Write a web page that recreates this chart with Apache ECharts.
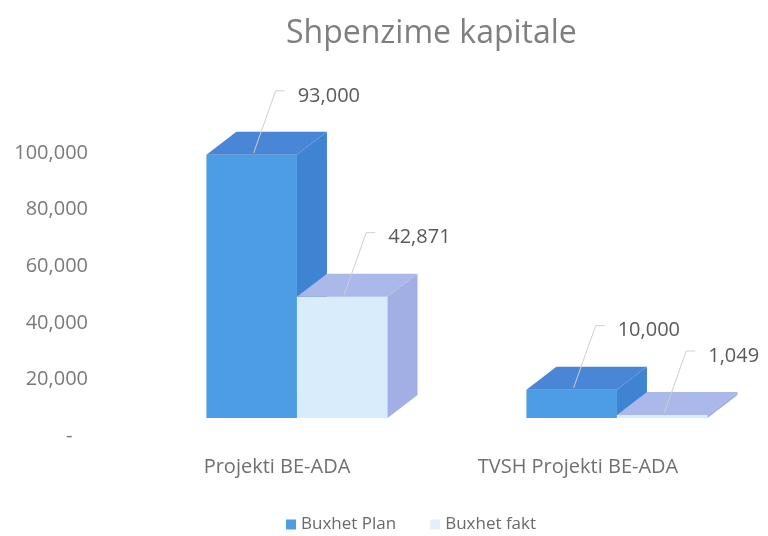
<!DOCTYPE html>
<html>
<head>
<meta charset="utf-8">
<script src="https://cdn.jsdelivr.net/npm/echarts@6/dist/echarts.min.js"></script>
<style>
html, body { margin: 0; padding: 0; background: #fff; }
#chart { width: 768px; height: 536px; }
</style>
</head>
<body>
<div id="chart"></div>
<script>
var categories = ["Projekti BE-ADA", "TVSH Projekti BE-ADA"];
var planValues = [93000, 10000];
var faktValues = [42871, 1049];
var yTicks = [0, 20000, 40000, 60000, 80000, 100000];

var FONT = '"Open Sans", "Noto Sans", sans-serif';

// colours for front / top / side of each series
var faces = [
  { front: "#4c9de4", top: "#4a86d6", side: "#3f84d2" },
  { front: "#d9ecfb", top: "#aab8ea", side: "#a2afe5" }
];

function fmt(v) {
  return v.toLocaleString("en-US");
}

function box(seriesIdx) {
  return function (params, api) {
    var j = params.dataIndex;
    var val = api.value(1);
    var band = api.size([1, 0])[0];
    var w = band * 0.283;
    var shift = band * 0.053;
    var lift = 18, dx = 30, dy = -23;
    var cx = api.coord([j, 0])[0] + shift;
    var x0 = seriesIdx === 0 ? cx - w : cx;
    var x1 = x0 + w;
    var yb = api.coord([j, 0])[1] - lift;
    var yt = api.coord([j, val])[1] - lift;
    var f = faces[seriesIdx];
    var mid = (x0 + x1) / 2;
    var lx = mid + 24, ly = yt - 64;
    return {
      type: "group",
      children: [
        { type: "polygon", shape: { points: [[x0, yb], [x1, yb], [x1, yt], [x0, yt]] }, style: { fill: f.front } },
        { type: "polygon", shape: { points: [[x0, yt], [x1, yt], [x1 + dx, yt + dy], [x0 + dx, yt + dy]] }, style: { fill: f.top } },
        { type: "polygon", shape: { points: [[x1, yb], [x1 + dx, yb + dy], [x1 + dx, yt + dy], [x1, yt]] }, style: { fill: f.side } },
        { type: "polyline", shape: { points: [[mid + 2, yt - 2], [lx, ly], [lx + 9, ly]] }, style: { stroke: "#cfcfcf", lineWidth: 1, fill: null } },
        { type: "text", style: { text: fmt(val), x: lx + 22, y: ly + 5, fill: "#5a5a5a", font: "20px " + FONT, verticalAlign: "middle" } }
      ]
    };
  };
}

var chart = echarts.init(document.getElementById("chart"));
chart.setOption({
  backgroundColor: "#fff",
  animation: false,
  title: {
    text: "Shpenzime kapitale",
    left: 281,
    top: 13,
    textStyle: { color: "#7f7f7f", fontSize: 32, fontWeight: "normal", fontFamily: FONT }
  },
  legend: {
    data: ["Buxhet Plan", "Buxhet fakt"],
    top: 511,
    left: 281,
    itemWidth: 10,
    itemHeight: 10,
    itemGap: 34,
    icon: "rect",
    textStyle: { color: "#6a6a6a", fontSize: 17, fontFamily: FONT }
  },
  grid: { left: 120, width: 640, top: 153, bottom: 100 },
  xAxis: {
    type: "category",
    data: categories,
    axisLine: { show: false },
    axisTick: { show: false },
    axisLabel: {
      color: "#707070",
      fontSize: 20,
      fontFamily: FONT,
      margin: 21,
      formatter: function (v, i) { return i === 0 ? "{a|" + v + "}" : "{b|" + v + "}"; },
      rich: {
        a: { color: "#707070", fontSize: 20, fontFamily: FONT, padding: [0, 6, 0, 0] },
        b: { color: "#707070", fontSize: 20, fontFamily: FONT, padding: [0, 44, 0, 0] }
      }
    }
  },
  yAxis: {
    type: "value",
    min: yTicks[0],
    max: yTicks[yTicks.length - 1],
    interval: yTicks[1] - yTicks[0],
    splitLine: { show: false },
    axisLine: { show: false },
    axisTick: { show: false },
    axisLabel: {
      color: "#7a7a7a",
      fontSize: 20,
      fontFamily: FONT,
      margin: 32,
      formatter: function (v) { return v === 0 ? "-   " : fmt(v); }
    }
  },
  series: [
    {
      name: "Buxhet Plan",
      type: "custom",
      clip: false,
      itemStyle: { color: "#4c9de4" },
      renderItem: box(0),
      data: planValues.map(function (v, i) { return [i, v]; })
    },
    {
      name: "Buxhet fakt",
      type: "custom",
      clip: false,
      itemStyle: { color: "#e3f0fb" },
      renderItem: box(1),
      data: faktValues.map(function (v, i) { return [i, v]; })
    }
  ]
});
</script>
</body>
</html>
